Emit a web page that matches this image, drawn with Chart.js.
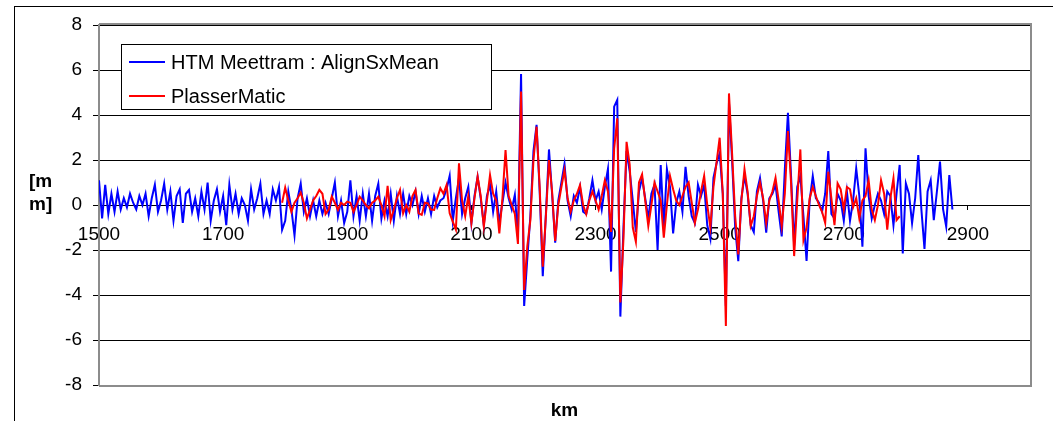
<!DOCTYPE html>
<html>
<head>
<meta charset="utf-8">
<script src="https://cdn.jsdelivr.net/npm/chart.js@4.4.1/dist/chart.umd.min.js"></script>
<style>
html,body{margin:0;padding:0;background:#fff;}
#wrap{position:relative;width:1053px;height:421px;overflow:hidden;background:#fff;}
canvas{display:block;}
</style>
</head>
<body>
<div id="wrap"><canvas id="c" width="1053" height="421"></canvas></div>
<script>
// ---------- data ----------
const xTickLabels = [1500, 1700, 1900, 2100, 2300, 2500, 2700, 2900];
const yTickValues = [-8, -6, -4, -2, 0, 2, 4, 6, 8];
const seriesNames = ['HTM Meettram : AlignSxMean', 'PlasserMatic'];
const yAxisTitle = ['[m', 'm]'];
const xAxisTitle = 'km';

// sampling grid (km) of both series: one value every 5 km
const blueStartKm = 1500;
const redStartKm = 1795;
const sampleStepKm = 5;

// HTM Meettram : AlignSxMean  (1500 .. 2875 km)
const alignSxMean = [
  1.1,-0.6,0.9,-0.4,0.5,-0.3,0.6,-0.2,0.3,-0.1,0.5,0.1,-0.2,0.4,0.0,0.5,-0.5,0.3,0.9,-0.3,
  0.2,0.95,-0.2,0.6,-0.7,0.4,0.7,-0.8,0.5,0.67,-0.3,0.3,-0.5,0.6,-0.2,1.0,-0.7,0.2,0.7,-0.3,
  0.4,-0.9,0.9,-0.2,0.5,-0.4,0.3,0.0,-0.7,0.7,-0.2,0.3,0.95,-0.4,0.2,-0.4,0.7,0.2,0.8,-1.1,
  -0.7,0.6,-0.2,-1.35,0.3,0.95,-0.3,0.3,-0.5,0.2,-0.5,0.2,-0.4,0.1,-0.4,0.3,1.0,-0.5,0.2,-0.8,
  -0.3,1.1,-0.5,0.4,-0.7,0.5,-0.5,0.5,-0.7,0.4,0.95,-0.6,0.2,-0.5,0.5,-0.7,0.4,-0.4,0.5,-0.4,
  0.4,0.0,0.6,-0.4,0.4,-0.3,0.3,-0.4,0.4,-0.1,0.2,0.3,0.7,1.3,-0.7,0.3,1.2,-0.4,0.3,0.8,
  -0.8,0.4,1.25,0.3,-0.9,0.4,0.9,-0.3,0.6,-0.8,0.1,1.0,0.3,-0.2,0.45,-1.4,5.82,-4.49,-2.4,-0.5,
  2.4,3.56,0.6,-3.16,-0.4,2.47,0.5,-1.67,0.2,1.0,1.82,0.2,-0.5,0.4,0.1,0.8,-0.3,-0.4,0.3,1.1,
  0.2,0.6,-0.2,0.8,1.6,-2.96,4.37,4.67,-4.96,-1.0,2.4,1.5,0.2,-1.2,0.6,1.2,0.3,-0.6,0.5,0.9,
  -2.0,1.78,-1.0,1.59,0.8,-1.26,0.1,0.6,-0.3,1.7,0.4,-0.5,-0.8,0.9,0.4,0.9,-0.9,-1.5,1.2,1.85,
  2.3,0.5,-4.49,4.55,2.0,-1.0,-2.5,0.3,1.3,0.5,-0.9,-1.2,0.6,1.2,0.2,-1.23,0.3,0.5,0.9,-0.3,
  -1.4,1.6,4.1,1.3,-1.8,0.8,1.3,-0.5,-2.49,0.2,1.29,0.3,0.1,-0.3,0.5,2.4,-0.4,-0.6,0.5,0.2,
  -0.7,0.6,-0.7,0.2,1.63,0.4,-1.85,2.52,0.4,-0.6,0.0,0.5,0.2,-0.4,0.6,0.4,-0.9,0.5,1.78,-2.15,
  0.96,0.5,-0.81,0.3,2.22,-0.2,-1.95,0.6,1.1,-0.67,0.6,1.93,-0.2,-0.96,1.33,-0.2
];

// PlasserMatic  (1795 .. 2790 km)
const plasserMatic = [
  0.1,0.77,0.2,-0.3,0.1,0.3,0.55,0.1,-0.6,-0.2,0.2,0.4,0.67,0.5,-0.4,-0.2,0.37,0.1,-0.22,0.1,
  0.0,0.15,0.1,-0.3,0.0,0.37,0.2,0.0,-0.15,0.1,0.2,0.37,0.0,-0.5,0.85,-0.67,-0.2,0.3,0.67,-0.37,
  0.0,-0.3,0.4,0.67,-0.37,-0.44,0.1,0.07,-0.2,-0.22,0.3,0.74,0.5,0.89,-0.37,-0.74,-1.1,1.85,0.2,-0.5,
  0.4,-0.8,0.3,1.26,0.4,-0.96,0.2,1.33,0.5,0.2,-1.26,0.3,2.44,0.4,0.0,-0.4,-1.73,5.04,-3.78,-1.85,
  -0.67,2.0,3.48,0.8,-2.74,-0.5,2.0,0.6,-1.6,0.0,0.8,1.55,0.3,-0.3,0.2,0.5,0.89,0.0,-0.4,0.2,
  0.6,0.2,-0.2,0.4,1.1,0.6,-1.2,2.5,3.85,-4.33,-1.5,2.81,1.8,-1.0,-1.63,1.0,1.36,0.2,-0.93,0.0,
  1.0,0.6,0.2,-1.45,0.0,1.29,0.7,0.2,0.0,0.4,0.8,1.0,0.1,-0.8,-0.2,0.6,1.29,0.0,-1.0,0.8,
  1.9,2.99,0.5,-5.38,4.96,2.3,-0.5,-2.2,0.2,1.59,0.6,-0.93,-0.5,0.4,1.0,0.3,-0.8,0.2,0.6,1.21,
  0.2,-0.93,0.5,3.29,1.0,-2.27,0.2,2.47,-1.56,-1.0,0.3,0.8,0.4,0.0,-0.3,-0.8,1.48,0.3,-0.9,0.96,
  0.7,-0.2,0.8,0.7,-0.1,0.3,-0.6,0.2,0.4,1.1,-0.2,-0.67,0.0,1.1,0.5,-1.1,0.3,1.19,-0.67,-0.5
];

// ---------- chart ----------
const FONT = '"Liberation Sans", Arial, Helvetica, sans-serif';

function toPoints(values, startKm) {
  return values.map((v, i) => ({ x: startKm + i * sampleStepKm, y: v }));
}

const framePlugin = {
  id: 'frame',
  beforeDraw(chart) {
    const c = chart.ctx;
    c.save();
    c.fillStyle = '#fff';
    c.fillRect(0, 0, chart.width, chart.height);
    c.strokeStyle = '#000';
    c.lineWidth = 1;
    c.strokeRect(14.5, 6.5, chart.width + 50, chart.height + 50);
    c.restore();
  },
  beforeDatasetsDraw(chart) {
    const a = chart.chartArea, c = chart.ctx;
    c.save();
    c.strokeStyle = '#8c8c8c';
    c.lineWidth = 2;
    c.beginPath();
    c.moveTo(a.left, a.top - 1);
    c.lineTo(a.right + 1, a.top - 1);
    c.lineTo(a.right + 1, a.bottom + 1);
    c.lineTo(a.left, a.bottom + 1);
    c.stroke();
    c.restore();
  },
  afterDraw(chart) {
    const c = chart.ctx;
    c.save();
    // axis titles
    c.fillStyle = '#000';
    c.font = 'bold 19px ' + FONT;
    c.textAlign = 'left';
    c.textBaseline = 'alphabetic';
    c.fillText(yAxisTitle[0], 29, 187);
    c.fillText(yAxisTitle[1], 29, 210);
    c.textAlign = 'center';
    c.fillText(xAxisTitle, (chart.chartArea.left + chart.chartArea.right) / 2, 416);
    // legend box
    c.fillStyle = '#fff';
    c.fillRect(121, 44, 371, 66);
    c.strokeStyle = '#000';
    c.lineWidth = 1;
    c.strokeRect(121.5, 44.5, 370, 65);
    const ds = chart.data.datasets;
    const rows = [62, 96];
    c.font = '20px ' + FONT;
    c.textAlign = 'left';
    ds.forEach((d, i) => {
      c.strokeStyle = d.borderColor;
      c.lineWidth = 2;
      c.beginPath();
      c.moveTo(129, rows[i]);
      c.lineTo(165, rows[i]);
      c.stroke();
      c.fillStyle = '#000';
      c.fillText(d.label, 171, rows[i] + 7);
    });
    c.restore();
  }
};

new Chart(document.getElementById('c'), {
  type: 'line',
  data: {
    datasets: [
      {
        label: seriesNames[0],
        data: toPoints(alignSxMean, blueStartKm),
        borderColor: '#0000FF',
        borderWidth: 2,
        pointRadius: 0,
        tension: 0,
        fill: false,
        order: 1
      },
      {
        label: seriesNames[1],
        data: toPoints(plasserMatic, redStartKm),
        borderColor: '#FF0000',
        borderWidth: 2,
        pointRadius: 0,
        tension: 0,
        fill: false,
        order: 0
      }
    ]
  },
  options: {
    responsive: false,
    animation: false,
    devicePixelRatio: 1,
    layout: { padding: { left: 0, top: 25, right: 23, bottom: 36 } },
    plugins: { legend: { display: false }, tooltip: { enabled: false } },
    scales: {
      x: {
        type: 'linear',
        min: 1500,
        max: 3000,
        position: { y: 0 },
        afterBuildTicks: s => { s.ticks = xTickLabels.map(v => ({ value: v })); },
        grid: { drawOnChartArea: false, drawTicks: true, tickLength: 5, color: '#000' },
        border: { display: false },
        ticks: {
          color: '#000',
          font: { family: FONT, size: 19 },
          padding: 13,
          maxRotation: 0,
          autoSkip: false,
          callback: v => String(v)
        }
      },
      y: {
        type: 'linear',
        min: -8,
        max: 8,
        afterBuildTicks: s => { s.ticks = yTickValues.map(v => ({ value: v })); },
        afterFit: s => { s.width = 99; },
        grid: { color: '#000', lineWidth: 1, drawTicks: true, tickLength: 6 },
        border: { display: true, color: '#8c8c8c', width: 2 },
        ticks: {
          color: '#000',
          font: { family: FONT, size: 19 },
          padding: 11,
          callback: v => String(v)
        }
      }
    }
  },
  plugins: [framePlugin]
});
</script>
</body>
</html>
